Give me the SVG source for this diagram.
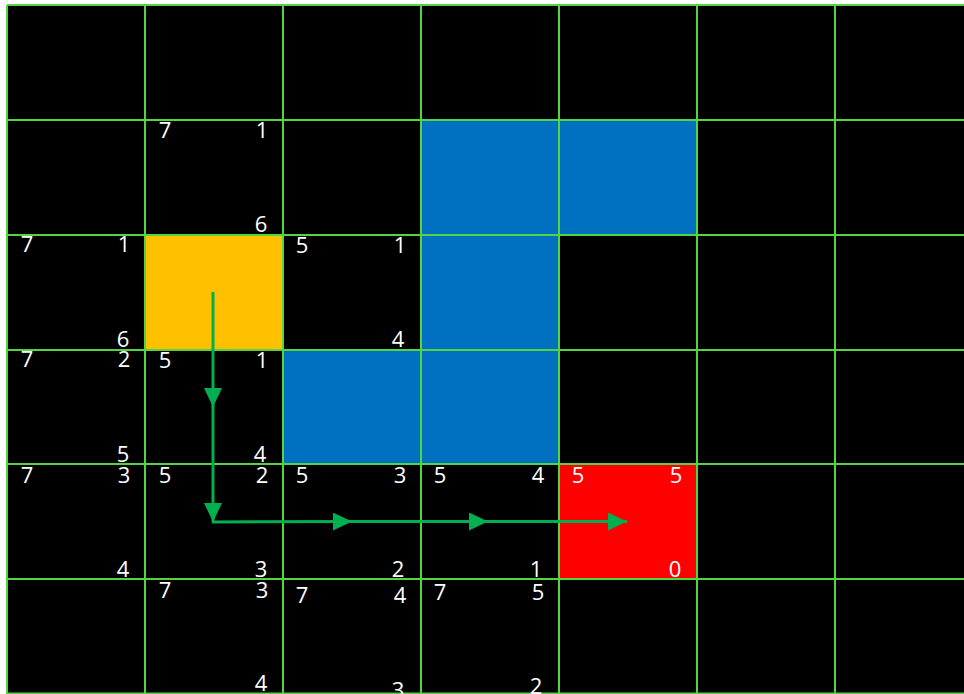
<svg xmlns="http://www.w3.org/2000/svg" width="964" height="694" viewBox="0 0 964 694">
<style>
.grid line{stroke:#52d540;stroke-width:2}
text{font-family:"Open Sans","Liberation Sans",sans-serif;font-size:22px;fill:#ffffff;text-anchor:middle}
.conn line{stroke:#00b050;stroke-width:3;fill:none}
</style>
<defs>
<marker id="ah" viewBox="0 0 19 18" refX="19" refY="9" markerWidth="19" markerHeight="18" markerUnits="userSpaceOnUse" orient="auto">
<path d="M0,0 L19,9 L0,18 Z" fill="#00b050"/>
</marker>
</defs>
<rect x="0" y="0" width="964" height="694" fill="#ffffff"/>
<rect x="7" y="5" width="957" height="689" fill="#000000"/>
<g id="obstacles">
<rect x="421" y="120" width="138" height="115" fill="#0070c0"/>
<rect x="559" y="120" width="138" height="115" fill="#0070c0"/>
<rect x="421" y="235" width="138" height="115" fill="#0070c0"/>
<rect x="283" y="350" width="138" height="114" fill="#0070c0"/>
<rect x="421" y="350" width="138" height="114" fill="#0070c0"/>
</g>
<g id="start"><rect x="145" y="235" width="138" height="115" fill="#ffc000"/></g>
<g id="goal">
<rect x="559" y="464" width="138" height="115" fill="#ff0000"/>
<text x="578" y="483">5</text><text x="676" y="483">5</text><text x="675" y="577">0</text>
</g>
<g class="grid">
<line x1="7" y1="5" x2="7" y2="694"/>
<line x1="145" y1="5" x2="145" y2="694"/>
<line x1="283" y1="5" x2="283" y2="694"/>
<line x1="421" y1="5" x2="421" y2="694"/>
<line x1="559" y1="5" x2="559" y2="694"/>
<line x1="697" y1="5" x2="697" y2="694"/>
<line x1="835" y1="5" x2="835" y2="694"/>
<line x1="7" y1="5" x2="964" y2="5"/>
<line x1="7" y1="120" x2="964" y2="120"/>
<line x1="7" y1="235" x2="964" y2="235"/>
<line x1="7" y1="350" x2="964" y2="350"/>
<line x1="7" y1="464" x2="964" y2="464"/>
<line x1="7" y1="579" x2="964" y2="579"/>
<line x1="7" y1="693.5" x2="964" y2="693.5"/>
</g>
<g id="c-1-1"><text x="165" y="138">7</text><text x="262" y="138">1</text><text x="261" y="232">6</text></g>
<g id="c-2-0"><text x="27" y="252">7</text><text x="124" y="252">1</text><text x="123" y="347">6</text></g>
<g id="c-2-2"><text x="302" y="253">5</text><text x="400" y="253">1</text><text x="398" y="347">4</text></g>
<g id="c-3-0"><text x="27" y="367">7</text><text x="124" y="367">2</text><text x="123" y="462">5</text></g>
<g id="c-3-1"><text x="165" y="368">5</text><text x="262" y="368">1</text><text x="260" y="462">4</text></g>
<g id="c-4-0"><text x="27" y="483">7</text><text x="124" y="483">3</text><text x="123" y="577">4</text></g>
<g id="c-4-1"><text x="165" y="483">5</text><text x="262" y="483">2</text><text x="261" y="577">3</text></g>
<g id="c-4-2"><text x="302" y="483">5</text><text x="400" y="483">3</text><text x="398" y="577">2</text></g>
<g id="c-4-3"><text x="440" y="483">5</text><text x="538" y="483">4</text><text x="536" y="577">1</text></g>
<g id="c-5-1"><text x="165" y="598">7</text><text x="262" y="598">3</text><text x="261" y="691">4</text></g>
<g id="c-5-2"><text x="302" y="603">7</text><text x="400" y="603">4</text><text x="398" y="698">3</text></g>
<g id="c-5-3"><text x="440" y="600">7</text><text x="538" y="600">5</text><text x="536" y="694">2</text></g>
<g class="conn" id="connectors">
<line x1="213" y1="292" x2="213" y2="407" marker-end="url(#ah)"/>
<line x1="213" y1="406" x2="213" y2="522" marker-end="url(#ah)"/>
<line x1="212" y1="522" x2="352" y2="521.5" marker-end="url(#ah)"/>
<line x1="351" y1="521.5" x2="488" y2="521.5" marker-end="url(#ah)"/>
<line x1="487" y1="521.5" x2="627" y2="521.5" marker-end="url(#ah)"/>
</g>
</svg>
